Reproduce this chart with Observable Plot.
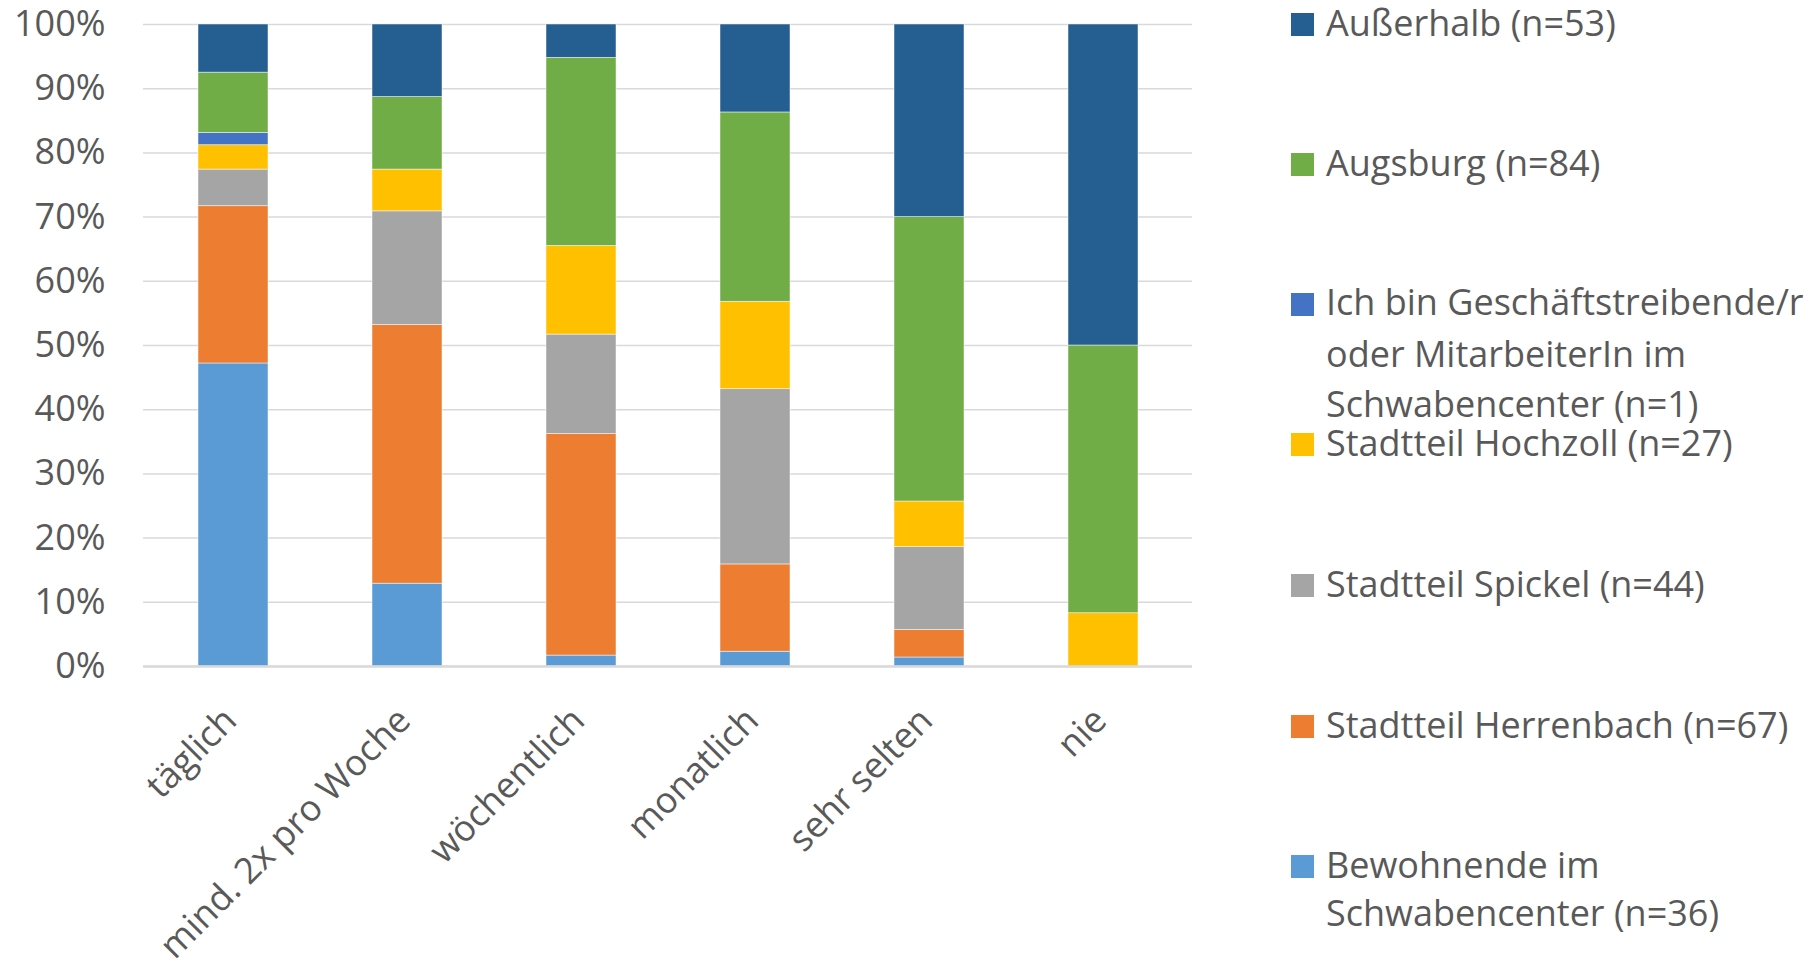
<!DOCTYPE html>
<html>
<head>
<meta charset="utf-8">
<script src="https://cdn.jsdelivr.net/npm/d3@7"></script>
<script src="https://cdn.jsdelivr.net/npm/@observablehq/plot@0.6"></script>
<style>
  html, body { margin: 0; padding: 0; background: #fff; }
  #wrap { position: relative; width: 1818px; height: 965px; overflow: hidden; font-family: "Open Sans", sans-serif; }
  #chart { position: absolute; left: 0; top: 0; }
  #legend { position: absolute; left: 0; top: 0; }
  .line { position: absolute; left: 1326px; color: #595959; font-size: 36px; line-height: 36px; height: 36px; white-space: nowrap; }
  .sw { position: absolute; left: 1291px; width: 23px; height: 23px; }
</style>
</head>
<body>
<div id="wrap">
  <div id="chart"></div>
  <div id="legend"></div>
</div>
<script>
// Categories (x axis)
const categories = ["täglich", "mind. 2x pro Woche", "wöchentlich", "monatlich", "sehr selten", "nie"];

// Series, bottom to top of stack (percent per category)
const seriesNames = [
  "Bewohnende im Schwabencenter (n=36)",
  "Stadtteil Herrenbach (n=67)",
  "Stadtteil Spickel (n=44)",
  "Stadtteil Hochzoll (n=27)",
  "Ich bin Geschäftstreibende/r oder MitarbeiterIn im Schwabencenter (n=1)",
  "Augsburg (n=84)",
  "Außerhalb (n=53)"
];
const bewohnende  = [47.2, 12.9, 1.7, 2.3, 1.4, 0];
const herrenbach  = [24.5, 40.3, 34.5, 13.6, 4.3, 0];
const spickel     = [5.7, 17.7, 15.5, 27.3, 12.9, 0];
const hochzoll    = [3.8, 6.5, 13.8, 13.6, 7.1, 8.3];
const geschaeft   = [1.9, 0, 0, 0, 0, 0];
const augsburg    = [9.4, 11.3, 29.3, 29.5, 44.3, 41.7];
const ausserhalb  = [7.5, 11.3, 5.2, 13.7, 30.0, 50.0];
const seriesColors = ["#5B9BD5", "#ED7D31", "#A5A5A5", "#FFC000", "#4472C4", "#70AD47", "#255E91"];

// Legend: order top to bottom, with line breaks as in the reference
const legendLines = [
  ["Außerhalb (n=53)"],
  ["Augsburg (n=84)"],
  ["Ich bin Geschäftstreibende/r", "oder MitarbeiterIn im", "Schwabencenter (n=1)"],
  ["Stadtteil Hochzoll (n=27)"],
  ["Stadtteil Spickel (n=44)"],
  ["Stadtteil Herrenbach (n=67)"],
  ["Bewohnende im", "Schwabencenter (n=36)"]
];
const legendColors = ["#255E91", "#70AD47", "#4472C4", "#FFC000", "#A5A5A5", "#ED7D31", "#5B9BD5"];
const yTicks = [0, 10, 20, 30, 40, 50, 60, 70, 80, 90, 100];

const seriesValues = [bewohnende, herrenbach, spickel, hochzoll, geschaeft, augsburg, ausserhalb];
const data = [];
seriesNames.forEach((s, si) => {
  categories.forEach((c, ci) => {
    data.push({category: c, series: s, value: seriesValues[si][ci]});
  });
});

const chart = Plot.plot({
  width: 1250,
  height: 965,
  marginLeft: 143,
  marginRight: 58,
  marginTop: 24,
  marginBottom: 299,
  style: {fontFamily: "Open Sans", fontSize: "36px", color: "#595959", background: "white"},
  x: {domain: categories, paddingInner: 0.6, paddingOuter: 0.3, label: null},
  y: {domain: [0, 100], label: null},
  color: {domain: seriesNames, range: seriesColors},
  marks: [
    Plot.gridY(yTicks, {stroke: "#D9D9D9", strokeOpacity: 1, strokeWidth: 1.5}),
    Plot.barY(data, Plot.stackY({order: null}, {x: "category", y: "value", fill: "series", stroke: "white", strokeWidth: 0.8, strokeOpacity: 0.6})),
    Plot.ruleY([0], {stroke: "#D9D9D9", strokeWidth: 2.5}),
    Plot.axisY(yTicks, {tickSize: 0, tickPadding: 38, tickFormat: d => d + "%", label: null, fontSize: 36}),
    Plot.axisX({tickSize: 0, tickRotate: -45, tickPadding: 48, dx: -3, label: null, fontSize: 36})
  ]
});
document.getElementById("chart").appendChild(chart);

// HTML legend (one element per text line)
const swatchCenters = [24.5, 164.5, 304.5, 444.5, 585, 726, 866];
const lineCenters = [[23], [163], [302, 354, 404], [443], [584], [725], [865, 913]];
const legend = document.getElementById("legend");
legendLines.forEach((lines, i) => {
  const sw = document.createElement("div");
  sw.className = "sw";
  sw.style.top = (swatchCenters[i] - 11.5) + "px";
  sw.style.background = legendColors[i];
  legend.appendChild(sw);
  lines.forEach((t, j) => {
    const d = document.createElement("div");
    d.className = "line";
    d.style.top = (lineCenters[i][j] - 18) + "px";
    d.textContent = t;
    legend.appendChild(d);
  });
});
</script>
</body>
</html>
